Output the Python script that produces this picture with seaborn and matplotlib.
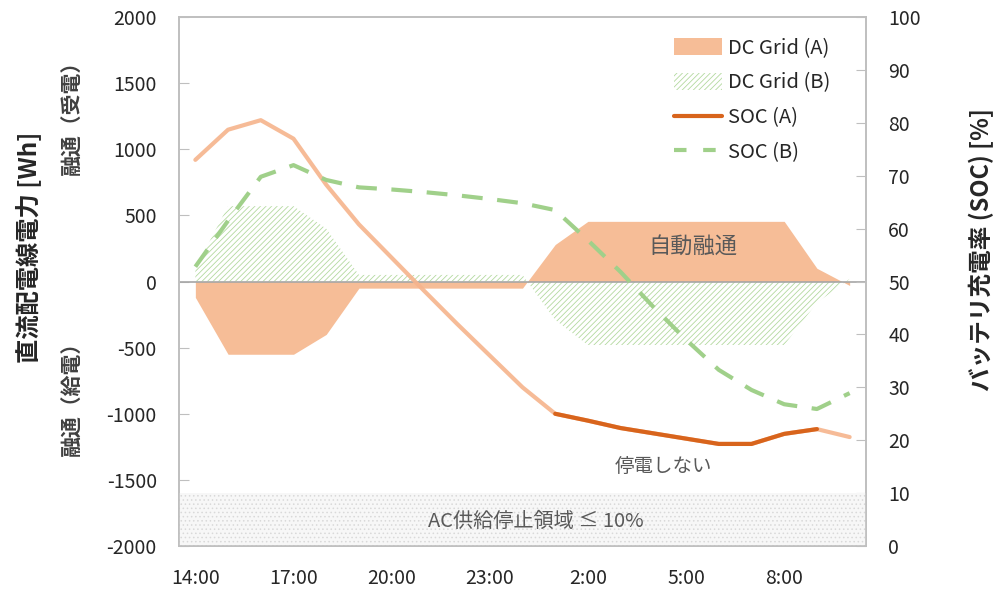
import numpy as np
import pandas as pd
import matplotlib
matplotlib.use("Agg")
import matplotlib.pyplot as plt
from matplotlib.patches import Patch
from matplotlib.lines import Line2D
import seaborn as sns

hours = ["14:00", "15:00", "16:00", "17:00", "18:00", "19:00", "20:00", "21:00",
         "22:00", "23:00", "0:00", "1:00", "2:00", "3:00", "4:00", "5:00",
         "6:00", "7:00", "8:00", "9:00", "10:00"]

# DC grid power [Wh]
dc_grid_a = [-120, -550, -550, -550, -400, -50, -50, -50, -50, -50, -50,
             280, 455, 455, 455, 455, 455, 455, 455, 100, -30]
dc_grid_b = [100, 570, 570, 570, 400, 50, 50, 50, 50, 50, 50,
             -290, -480, -480, -480, -480, -480, -480, -480, -160, 20]

# battery SOC [%]
soc_a = [73, 78.7, 80.5, 77, 68.3, 60.8, 54.5, 48.2, 42, 36, 30,
         25, 23.7, 22.3, 21.3, 20.3, 19.3, 19.3, 21.2, 22.1, 20.6]
soc_b = [52.8, 61.5, 69.8, 72, 69.2, 67.8, 67.4, 66.9, 66.3, 65.6, 64.8,
         63.5, 57.8, 51.8, 45.2, 39, 33.3, 29.5, 26.8, 25.9, 28.9]

# outage part of SOC (A), 1:00 - 9:00
outage_start, outage_end = "1:00", "9:00"

tick_hours = ["14:00", "17:00", "20:00", "23:00", "2:00", "5:00", "8:00"]

sns.set_style("white")
plt.rcParams["font.family"] = ["Noto Sans CJK JP", "DejaVu Sans"]
plt.rcParams["hatch.linewidth"] = 0.6
plt.rcParams["axes.unicode_minus"] = False

df = pd.DataFrame({"hour": hours, "a": dc_grid_a, "b": dc_grid_b,
                   "soc_a": soc_a, "soc_b": soc_b})
df["x"] = np.arange(len(df))
i0 = hours.index(outage_start)
i1 = hours.index(outage_end)
df_out = df.iloc[i0:i1 + 1]

c_area_a = "#f6bd97"
c_hatch_b = "#b3d99f"
c_soc_a = "#d8641c"
c_soc_a_light = "#f6b48c"
c_soc_b = "#a0d08a"
c_grey = "#bfbfbf"
c_text = "#595959"

fig = plt.figure(figsize=(10, 5.91), dpi=100)
ax = fig.add_axes([0.179, 0.0761, 0.687, 0.8951])
ax2 = ax.twinx()

# AC outage band (SOC <= 10%)
ax2.fill_between([-0.5, len(df) - 0.5], 0, 10, facecolor="#f7f7f7",
                 edgecolor="#d9d9d9", hatch="....", linewidth=0)

# DC grid areas
ax.fill_between(df["x"], 0, df["b"], facecolor="white", edgecolor=c_hatch_b,
                hatch="//////", linewidth=0)
ax.fill_between(df["x"], 0, df["a"], facecolor=c_area_a, linewidth=0)
ax.axhline(0, color="#a6a6a6", lw=1.2)

# SOC lines
sns.lineplot(data=df, x="x", y="soc_a", ax=ax2, color=c_soc_a_light, lw=3, alpha=0.9)
sns.lineplot(data=df_out, x="x", y="soc_a", ax=ax2, color=c_soc_a, lw=3)
sns.lineplot(data=df, x="x", y="soc_b", ax=ax2, color=c_soc_b, lw=3,
             linestyle=(0, (5, 3.5)))

ax.set_xlim(-0.5, len(df) - 0.5)
ax.set_ylim(-2000, 2000)
ax.set_yticks(np.arange(-2000, 2001, 500))
ax2.set_ylim(0, 100)
ax2.set_yticks(np.arange(0, 101, 10))
ax.set_xticks([hours.index(h) for h in tick_hours])
ax.set_xticklabels(tick_hours)

for a in (ax, ax2):
    for s in a.spines.values():
        s.set_color(c_grey)
        s.set_linewidth(1.2)
    a.set_xlabel("")
    a.set_ylabel("")
ax.tick_params(axis="y", direction="in", length=7, color=c_grey, pad=16,
               labelsize=14, labelcolor="#262626")
ax2.tick_params(axis="y", direction="in", length=7, color=c_grey, pad=16,
                labelsize=14, labelcolor="#262626")
ax.tick_params(axis="x", length=0, pad=16, labelsize=14, labelcolor="#262626")

# axis labels
fig.text(0.028, 1 - 247 / 591, "直流配電線電力 [Wh]", rotation=90, ha="center",
         va="center", fontsize=17.5, fontweight="bold", color="#262626")
fig.text(0.072, 1 - 112 / 591, "融通（受電）", rotation=90, ha="center",
         va="center", fontsize=15, fontweight="bold", color="#404040")
fig.text(0.072, 1 - 393 / 591, "融通（給電）", rotation=90, ha="center",
         va="center", fontsize=15, fontweight="bold", color="#404040")
fig.text(0.981, 1 - 250 / 591, "バッテリ充電率 (SOC) [%]", rotation=90,
         ha="center", va="center", fontsize=17, fontweight="bold", color="#262626")

# annotations
ax.text(15.2, 264, "自動融通", ha="center", va="center", fontsize=16, color=c_text)
ax2.text(14.3, 15.1, "停電しない", ha="center", va="center", fontsize=14, color=c_text)
ax2.text(10.4, 4.6, "AC供給停止領域 ≤ 10%", ha="center", va="center",
         fontsize=14.5, color=c_text)

handles = [
    Patch(facecolor=c_area_a, edgecolor="none", label="DC Grid (A)"),
    Patch(facecolor="white", edgecolor=c_hatch_b, hatch="//////", lw=0, label="DC Grid (B)"),
    Line2D([], [], color=c_soc_a, lw=3, label="SOC (A)"),
    Line2D([], [], color=c_soc_b, lw=3, linestyle=(0, (3, 4)), label="SOC (B)"),
]
ax2.legend(handles=handles, loc="upper right", bbox_to_anchor=(0.975, 0.995),
           frameon=False, fontsize=14.5, handlelength=2.4, handleheight=0.9,
           labelspacing=0.68, handletextpad=0.3)

fig.savefig("out.png", dpi=100)
